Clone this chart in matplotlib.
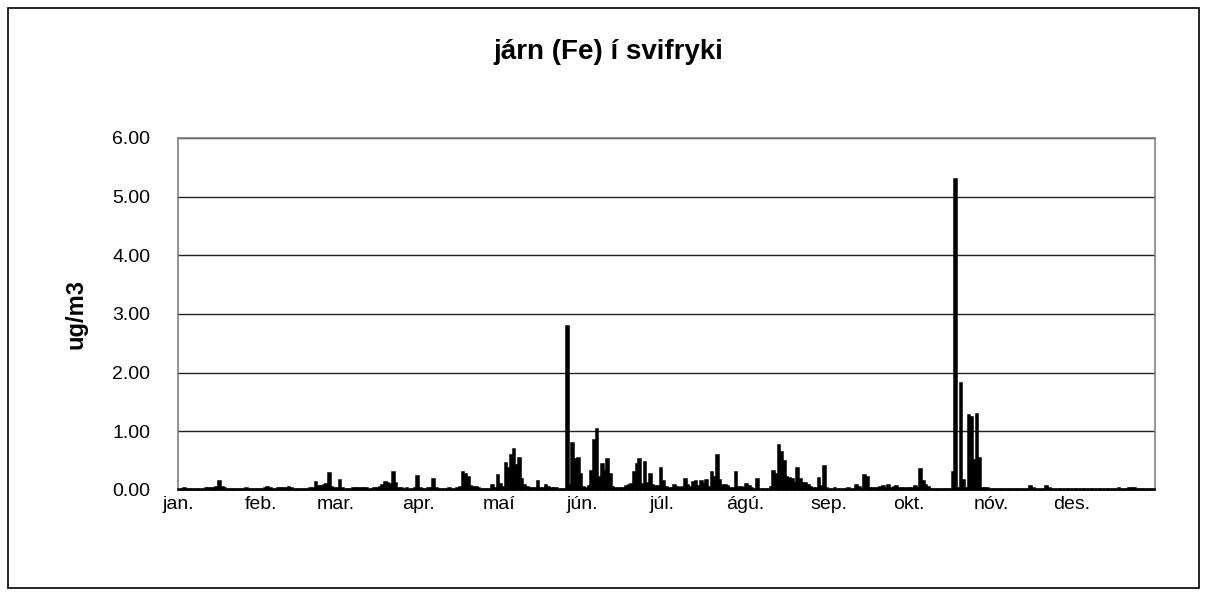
import matplotlib
matplotlib.use("Agg")
import matplotlib.pyplot as plt
from matplotlib.patches import Rectangle
import numpy as np

plt.rcParams['font.family'] = ['Liberation Sans', 'DejaVu Sans']

# Daily Fe concentrations (ug/m3) per month
jan = [0.02,0.02,0.03,0.02,0.02,0.02,0.01,0.01,0.02,0.02,0.03,0.03,0.04,0.04,0.05,0.15,0.05,0.03,0.02,0.02,
       0.02,0.02,0.02,0.02,0.02,0.03,0.02,0.02,0.02,0.02,0.02]
feb = [0.02,0.03,0.05,0.03,0.02,0.02,0.03,0.04,0.03,0.04,0.05,0.03,0.02,0.02,0.02,0.02,0.02,0.02,0.03,0.03,
       0.14,0.06,0.07,0.08,0.10,0.29,0.05,0.03]
mar = [0.03,0.17,0.03,0.02,0.02,0.02,0.03,0.03,0.04,0.04,0.03,0.03,0.02,0.02,0.03,0.03,0.05,0.08,0.14,0.12,
       0.10,0.31,0.12,0.04,0.03,0.02,0.03,0.02,0.02,0.03,0.24]
apr = [0.03,0.02,0.02,0.03,0.03,0.18,0.03,0.02,0.02,0.02,0.02,0.03,0.02,0.02,0.03,0.05,0.31,0.27,0.22,0.07,
       0.05,0.05,0.04,0.02,0.02,0.02,0.02,0.09,0.03,0.25]
mai = [0.10,0.05,0.46,0.38,0.60,0.70,0.42,0.55,0.18,0.08,0.05,0.04,0.03,0.03,0.16,0.04,0.03,0.09,0.05,0.04,
       0.03,0.03,0.02,0.02,0.01,2.80,0.08,0.80,0.52,0.55,0.27]
jun = [0.05,0.03,0.06,0.32,0.86,1.04,0.22,0.45,0.32,0.53,0.28,0.05,0.04,0.03,0.03,0.04,0.06,0.08,0.10,0.31,
       0.45,0.52,0.10,0.48,0.12,0.27,0.08,0.06,0.07,0.37]
jul = [0.15,0.05,0.04,0.04,0.08,0.05,0.04,0.05,0.18,0.08,0.05,0.14,0.16,0.06,0.15,0.10,0.17,0.05,0.30,0.22,
       0.60,0.17,0.08,0.08,0.06,0.03,0.03,0.31,0.05,0.05,0.04]
agu = [0.10,0.06,0.03,0.01,0.19,0.02,0.02,0.02,0.02,0.05,0.32,0.28,0.77,0.65,0.49,0.22,0.20,0.18,0.12,0.38,
       0.18,0.12,0.12,0.09,0.05,0.04,0.04,0.21,0.06,0.41,0.04]
sep = [0.02,0.02,0.03,0.02,0.02,0.02,0.02,0.03,0.02,0.02,0.08,0.05,0.02,0.25,0.22,0.03,0.03,0.03,0.04,0.05,
       0.06,0.04,0.08,0.04,0.05,0.06,0.04,0.03,0.04,0.03]
okt = [0.03,0.04,0.07,0.04,0.35,0.16,0.08,0.05,0.02,0.02,0.02,0.02,0.02,0.02,0.02,0.02,0.30,5.30,0.03,1.82,
       0.17,0.03,1.28,1.25,0.51,1.30,0.54,0.04,0.03,0.03,0.02]
nov = [0.02,0.02,0.02,0.02,0.02,0.02,0.02,0.02,0.02,0.02,0.02,0.02,0.02,0.02,0.06,0.03,0.02,0.02,0.02,0.02,
       0.06,0.04,0.02,0.02,0.02,0.02,0.02,0.02,0.02,0.02]
des = [0.02,0.02,0.02,0.02,0.02,0.02,0.02,0.02,0.02,0.02,0.02,0.02,0.02,0.02,0.02,0.02,0.02,0.03,0.02,0.02,
       0.02,0.03,0.04,0.03,0.02,0.02,0.02,0.02,0.02,0.02,0.02]

month_labels = ['jan.', 'feb.', 'mar.', 'apr.', 'maí', 'jún.', 'júl.', 'ágú.', 'sep.', 'okt.', 'nóv.', 'des.']
months = [jan, feb, mar, apr, mai, jun, jul, agu, sep, okt, nov, des]

values = np.concatenate([np.array(m, dtype=float) for m in months])
days = np.arange(len(values)) + 0.5
month_starts = np.cumsum([0] + [len(m) for m in months[:-1]])

W, H = 1208, 596
fig = plt.figure(figsize=(W / 100, H / 100), dpi=100)
ax = fig.add_axes([178 / W, 1 - 490 / H, (1155 - 178) / W, (490 - 138) / H])

bars = ax.bar(days, values, width=1.0, color='black', edgecolor='black', linewidth=1.1,
              joinstyle='miter', zorder=3)
for b in bars:
    b.set_clip_on(False)

ax.set_xlim(0, len(values))
ax.set_ylim(0, 6)
ax.set_yticks(np.arange(0, 7, 1))
ax.set_yticklabels([f"{v:.2f}" for v in np.arange(0, 7, 1)], fontsize=14)
ax.set_xticks(month_starts)
ax.set_xticklabels(month_labels, fontsize=14)
ax.tick_params(axis='y', length=0, pad=20)
ax.tick_params(axis='x', length=0, pad=4)
ax.yaxis.grid(True, color='#222222', linewidth=1.0)
ax.set_axisbelow(True)
for s in ax.spines.values():
    s.set_color('#808080')
    s.set_linewidth(1.2)

ax.set_ylabel('ug/m3', fontsize=17, fontweight='bold', labelpad=18)
fig.text(608 / W, 1 - 52 / H, 'járn (Fe) í svifryki', fontsize=20, fontweight='bold',
         ha='center', va='center')

fig.patches.append(Rectangle((8 / W, 8 / H), (1199 - 8) / W, (588 - 8) / H,
                             transform=fig.transFigure, fill=False, edgecolor='black', linewidth=1.2))

fig.savefig('out.png', dpi=100)
